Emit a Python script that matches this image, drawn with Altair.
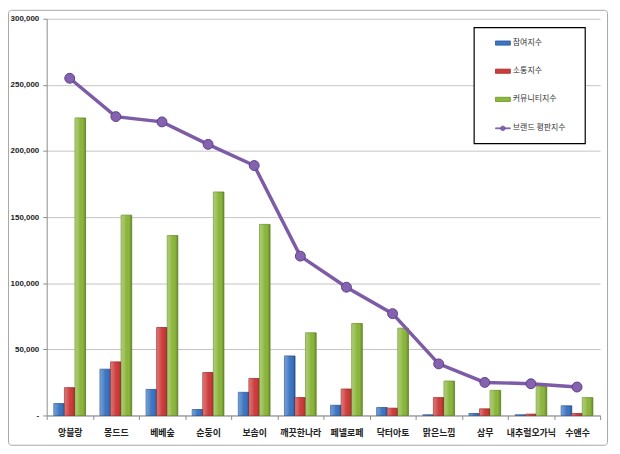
import altair as alt
import pandas as pd

brands = ["앙블랑", "몽드드", "베베숲", "순둥이", "보솜이", "깨끗한나라",
          "페넬로페", "닥터아토", "맑은느낌", "삼무", "내추럴오가닉", "수앤수"]
participation = [9000, 35000, 19700, 4500, 17500, 45000, 7700, 6000, 500, 1500, 500, 7300]
communication = [21000, 40500, 66500, 32500, 28000, 13500, 20000, 5500, 13500, 5000, 1000, 1500]
community = [225000, 151500, 136000, 169000, 144500, 62500, 69500, 66000, 26000, 19000, 22000, 13500]
brand_index = [255000, 226000, 222000, 205000, 189000, 120500, 97000, 77000, 39000, 25000, 24000, 21500]
series_names = ["참여지수", "소통지수", "커뮤니티지수"]
line_name = "브랜드 평판지수"

bar_colors = ["#3c76c4", "#d03c3c", "#8cb83c"]
bar_strokes = ["#2a5592", "#9c2a2a", "#6a8f2a"]
line_color = "#7d5ba6"
point_color = "#8562b0"

rows = []
for name, vals in zip(series_names, [participation, communication, community]):
    for b, v in zip(brands, vals):
        rows.append({"brand": b, "series": name, "value": v})
df_bars = pd.DataFrame(rows)
df_line = pd.DataFrame({"brand": brands, "value": brand_index, "name": line_name})
one = pd.DataFrame({"a": [0]})

W, H = 558, 400
KFONT = "Noto Sans CJK KR"

x_enc = alt.X("brand:N", sort=brands,
              scale=alt.Scale(paddingInner=0, paddingOuter=0),
              axis=alt.Axis(title=None, labelAngle=0, tickBand="extent",
                            labelFont=KFONT, labelFontWeight="bold", labelFontSize=9,
                            labelColor="#222222", labelPadding=9, tickSize=4,
                            tickColor="#8c8c8c", domainColor="#8c8c8c", grid=False))
y_enc = alt.Y("value:Q", scale=alt.Scale(domain=[0, 300000], nice=False),
              axis=alt.Axis(title=None, values=[0, 50000, 100000, 150000, 200000, 250000, 300000],
                            labelExpr="datum.value == 0 ? '-' : format(datum.value, ',')",
                            labelFont="Liberation Sans", labelFontWeight="bold", labelFontSize=8,
                            labelColor="#222222", labelPadding=4, tickSize=4,
                            tickColor="#8c8c8c", domainColor="#8c8c8c",
                            gridColor="#c4c4c4", gridWidth=1))
xoff_enc = alt.XOffset("series:N", sort=series_names,
                       scale=alt.Scale(domain=series_names, paddingInner=0, paddingOuter=0.68))

frame = alt.Chart(one).mark_rect(fill="transparent", stroke="#a6a6a6", strokeWidth=1,
                                  cornerRadius=3).encode(
    x=alt.value(-38.5), x2=alt.value(565.5), y=alt.value(-8.5), y2=alt.value(430))

bars = alt.Chart(df_bars).mark_bar(strokeWidth=0.8).encode(
    x=x_enc,
    xOffset=xoff_enc,
    y=y_enc,
    color=alt.Color("series:N", sort=series_names,
                    scale=alt.Scale(domain=series_names, range=bar_colors),
                    legend=alt.Legend(title=None, orient="none", legendX=452, legendY=16.5,
                                      symbolType="M-1,-0.28H1V0.28H-1Z", symbolSize=225,
                                      rowPadding=16.4, labelOffset=2, padding=0,
                                      labelFont=KFONT, labelFontSize=8, labelColor="#333333",
                                      symbolStrokeWidth=0.8)),
    stroke=alt.Stroke("series:N", sort=series_names,
                      scale=alt.Scale(domain=series_names, range=bar_strokes), legend=None),
)

shade = alt.Chart(df_bars).mark_bar(
    fill=alt.Gradient(gradient="linear", x1=0, x2=1, y1=0, y2=0,
                      stops=[alt.GradientStop(offset=0, color="rgba(255,255,255,0.30)"),
                             alt.GradientStop(offset=0.35, color="rgba(255,255,255,0.12)"),
                             alt.GradientStop(offset=0.7, color="rgba(0,0,0,0)"),
                             alt.GradientStop(offset=1, color="rgba(0,0,0,0.22)")]),
    strokeWidth=0,
).encode(x=alt.X("brand:N", sort=brands), xOffset=xoff_enc, y=alt.Y("value:Q"))

line = alt.Chart(df_line).mark_line(strokeWidth=3.5, color=line_color).encode(
    x=alt.X("brand:N", sort=brands),
    y=alt.Y("value:Q"),
)

points = alt.Chart(df_line).mark_circle(size=100, stroke="#5e4088",
                                         strokeWidth=1, opacity=1).encode(
    x=alt.X("brand:N", sort=brands),
    y=alt.Y("value:Q"),
    color=alt.Color("name:N", scale=alt.Scale(domain=[line_name], range=[point_color]),
                    legend=alt.Legend(title=None, orient="none", legendX=452, legendY=102.5,
                                      symbolType="M-1,-0.07H-0.3V0.07H-1Z M0.3,-0.07H1V0.07H0.3Z M-0.32,0A0.32,0.32,0,1,0,0.32,0A0.32,0.32,0,1,0,-0.32,0Z",
                                      symbolSize=225, labelOffset=2, padding=0,
                                      symbolOpacity=1, symbolStrokeWidth=0.5,
                                      labelFont=KFONT, labelFontSize=8, labelColor="#333333")),
)

legend_box = alt.Chart(one).mark_rect(fill="white", stroke="#000000", strokeWidth=1.2).encode(
    x=alt.value(431), x2=alt.value(543), y=alt.value(9), y2=alt.value(126))

chart = alt.layer(frame, bars, shade, line, points, legend_box).resolve_scale(
    color="independent", stroke="independent"
).properties(
    width=W, height=H,
    autosize=alt.AutoSizeParams(type="none"),
    padding={"left": 39, "top": 9, "right": 12, "bottom": 36},
    background="white",
).configure_view(stroke=None)

chart.save("out.html", embed_options={"renderer": "svg", "actions": False})
